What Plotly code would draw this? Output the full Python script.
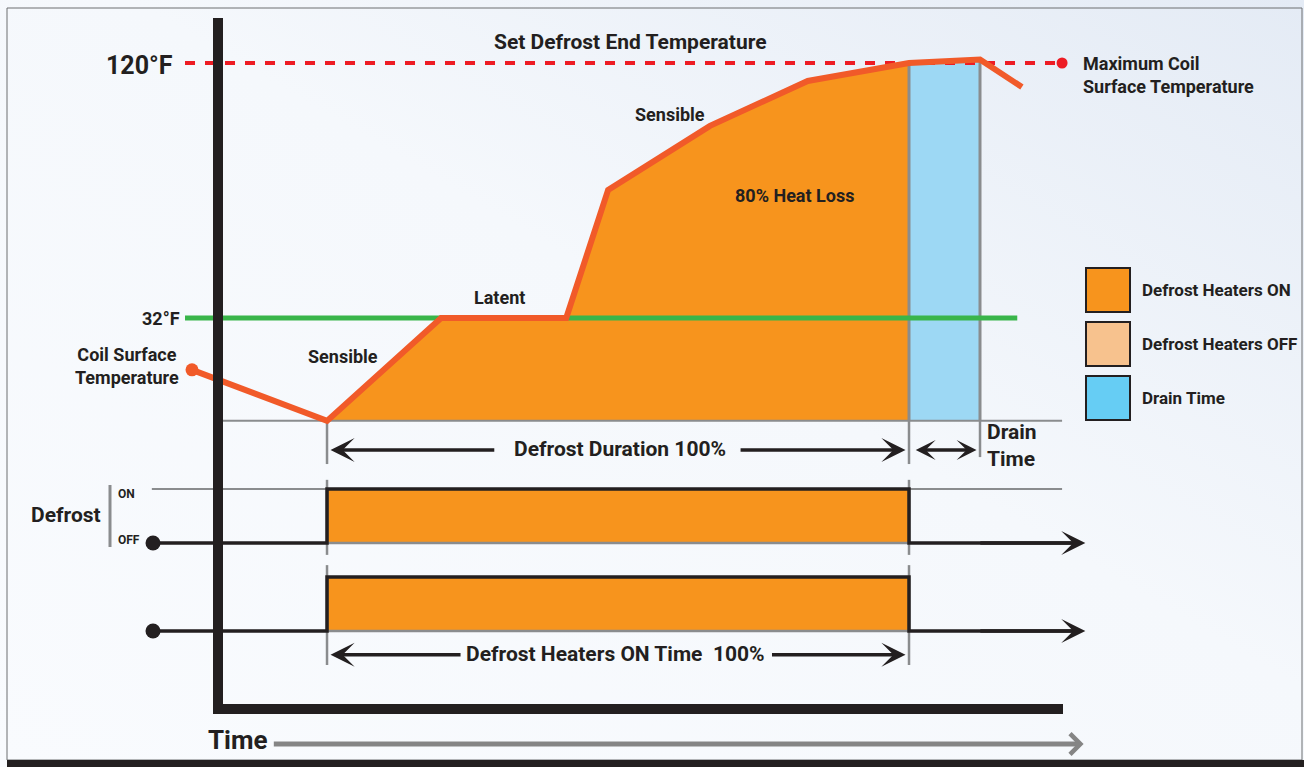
import base64
import plotly.graph_objects as go

# ---------------- data ----------------
# time in % of the defrost duration, temperature in °F
coil_time = [-23.2, 0.0, 19.6, 41.1, 48.3, 65.8, 82.6, 100.0, 112.2, 119.4]
coil_temp = [14.1, -3.5, 32.0, 32.0, 76.2, 98.3, 113.8, 120.0, 121.2, 111.7]
set_end_temp = 120
freezing_temp = 32
floor_temp = -3.5
defrost_start = 0.0
defrost_end = 100.0
drain_end = 112.2

signal_time = [-29.9, 0.0, 0.0, 100.0, 100.0, 128.0]
defrost_state = [0, 0, 1, 1, 0, 0]
heater_state = [0, 0, 1, 1, 0, 0]

legend_labels = ["Defrost Heaters ON", "Defrost Heaters OFF", "Drain Time"]
legend_colors = ["#f7941d", "#f7c28e", "#66cdf4"]

# ---------------- styles ----------------
W, H = 1304, 767
FONT = "Roboto, Liberation Sans, sans-serif"
INK = "#231f20"
GREY = "#8a8c8e"
ORANGE = "#f7941d"
CURVE = "#f15a29"
DRAIN = "#9dd8f4"


def px(v):
    return v / W


def py(v):
    return 1 - v / H


fig = go.Figure()

# heated area under the coil curve (defrost period)
i0 = coil_time.index(defrost_start)
i1 = coil_time.index(defrost_end)
seg_t = coil_time[i0:i1 + 1]
seg_T = coil_temp[i0:i1 + 1]
fig.add_trace(go.Scatter(x=seg_t + [defrost_end, defrost_start],
                         y=seg_T + [floor_temp, floor_temp],
                         fill="toself", fillcolor=ORANGE, mode="none",
                         hoverinfo="skip"))
# drain area
j1 = coil_time.index(drain_end)
fig.add_trace(go.Scatter(x=coil_time[i1:j1 + 1] + [drain_end, defrost_end],
                         y=coil_temp[i1:j1 + 1] + [floor_temp, floor_temp],
                         fill="toself", fillcolor=DRAIN, mode="none",
                         hoverinfo="skip"))

# grey verticals + baseline
for t, top in [(defrost_end, coil_temp[i1]), (drain_end, coil_temp[j1])]:
    fig.add_trace(go.Scatter(x=[t, t], y=[floor_temp, top], mode="lines",
                             line=dict(color=GREY, width=3), hoverinfo="skip"))
fig.add_trace(go.Scatter(x=[-18.0, 126.3], y=[floor_temp, floor_temp], mode="lines",
                         line=dict(color=GREY, width=2), hoverinfo="skip"))
# dimension ticks below baseline
for t, bottom in [(defrost_start, -18.4), (defrost_end, -18.4), (drain_end, -16.0)]:
    fig.add_trace(go.Scatter(x=[t, t], y=[floor_temp, bottom], mode="lines",
                             line=dict(color=GREY, width=2.5), hoverinfo="skip"))

# 32°F line
fig.add_trace(go.Scatter(x=[-24.4, 118.6], y=[freezing_temp, freezing_temp], mode="lines",
                         line=dict(color="#39b54a", width=5), hoverinfo="skip"))
# set defrost end temperature line
fig.add_trace(go.Scatter(x=[-24.4, 126.3], y=[set_end_temp, set_end_temp], mode="lines",
                         line=dict(color="#ed1c24", width=4, dash="10px,10px"),
                         hoverinfo="skip"))
fig.add_trace(go.Scatter(x=[126.3], y=[set_end_temp], mode="markers",
                         marker=dict(color="#ed1c24", size=11), hoverinfo="skip"))

# coil surface temperature curve
fig.add_trace(go.Scatter(x=coil_time, y=coil_temp, mode="lines",
                         line=dict(color=CURVE, width=6), hoverinfo="skip"))
fig.add_trace(go.Scatter(x=coil_time[:1], y=coil_temp[:1], mode="markers",
                         marker=dict(color=CURVE, size=13), hoverinfo="skip"))

# ---------------- signal rows ----------------
for yax, state, ref_line in [("y2", defrost_state, True), ("y3", heater_state, False)]:
    on = max(state)
    off = min(state)
    fig.add_trace(go.Scatter(x=[defrost_start, defrost_end, defrost_end, defrost_start],
                             y=[off, off, on, on], fill="toself", fillcolor=ORANGE,
                             mode="none", yaxis=yax, hoverinfo="skip"))
    fig.add_trace(go.Scatter(x=[defrost_start, defrost_end], y=[off, off], mode="lines",
                             line=dict(color=GREY, width=2.5), yaxis=yax, hoverinfo="skip"))
    if ref_line:
        fig.add_trace(go.Scatter(x=[-30.1, defrost_start, None, defrost_end, 126.3],
                                 y=[on, on, None, on, on], mode="lines",
                                 line=dict(color=GREY, width=2), yaxis=yax,
                                 hoverinfo="skip"))
        ticks = [(defrost_start, 1.17, -0.22), (defrost_end, 1.17, -0.22)]
    else:
        ticks = [(defrost_start, 1.22, -0.63), (defrost_end, 1.22, -0.63)]
    for t, a, b in ticks:
        fig.add_trace(go.Scatter(x=[t, t], y=[a, b], mode="lines",
                                 line=dict(color=GREY, width=2.5), yaxis=yax,
                                 hoverinfo="skip"))
    fig.add_trace(go.Scatter(x=signal_time, y=state, mode="lines",
                             line=dict(color=INK, width=3.5), yaxis=yax,
                             hoverinfo="skip"))
    fig.add_trace(go.Scatter(x=signal_time[:1], y=state[:1], mode="markers",
                             marker=dict(color=INK, size=15), yaxis=yax,
                             hoverinfo="skip"))

annotations = []


def label(text, x, y, size, xanchor="center", xref="x", yref="y", align="center"):
    annotations.append(dict(text=text, x=x, y=y, xref=xref, yref=yref, showarrow=False,
                            xanchor=xanchor, yanchor="middle", align=align,
                            font=dict(family=FONT, size=size, color=INK, weight="bold")))


def arrow(x, y, ax, ay, yref="y", color=INK, width=3.5, head=3, size=1.15, both=False):
    d = dict(x=x, y=y, ax=ax, ay=ay, xref="x", yref=yref, axref="x", ayref=yref,
             showarrow=True, arrowhead=head, arrowsize=size, arrowwidth=width,
             arrowcolor=color, text="")
    if both:
        d.update(arrowside="end+start", startarrowhead=head, startarrowsize=size)
    annotations.append(d)


# labels on the temperature chart
label("Set Defrost End Temperature", 52.2, 127.4, 21)
label("120°F", -26.2, 119.3, 25, xanchor="right")
label("32°F", -24.9, 32.0, 18, xanchor="right")
label("Coil Surface<br>Temperature", -34.4, 15.6, 18, align="center")
label("Sensible", 2.8, 18.6, 18)
label("Latent", 29.7, 39.0, 18)
label("Sensible", 58.9, 102.3, 18)
label("80% Heat Loss", 80.4, 74.2, 18)
label("Maximum Coil<br>Surface Temperature", 129.6, 116.0, 18, xanchor="left", align="left")
label("Defrost Duration 100%", 50.3, -13.2, 21)
label("Drain<br>Time", 113.0, -12.0, 21, xanchor="left", align="left")

arrow(0.6, -13.55, 29.0, -13.55)
arrow(99.4, -13.55, 70.8, -13.55)
arrow(111.6, -13.55, 100.9, -13.55, width=3.5, size=0.95, both=True)

# signal row labels
label("Defrost", px(66), py(515), 21, xref="paper", yref="paper")
label("ON", px(116), py(494), 12, xanchor="left", xref="paper", yref="paper")
label("OFF", px(116), py(540), 12, xanchor="left", xref="paper", yref="paper")
arrow(130.3, 0, 112.0, 0, yref="y2")
arrow(130.3, 0, 112.0, 0, yref="y3")
label("Defrost Heaters ON Time\u00a0\u00a0100%", 49.6, -0.42, 21, yref="y3")
arrow(0.6, -0.44, 23.2, -0.44, yref="y3")
arrow(99.4, -0.44, 76.2, -0.44, yref="y3")

# time axis label and arrow
label("Time", px(238), py(740), 26, xref="paper", yref="paper")
arrow(130.0, -115.0, -9.4, -115.0, color="#858585", width=5, head=4, size=0.8)

# legend
for k, (lab, col) in enumerate(zip(legend_labels, legend_colors)):
    top = 268 + 54 * k
    label(lab, px(1140), py(top + 22), 17, xanchor="left", xref="paper", yref="paper")

shapes = []
for k, col in enumerate(legend_colors):
    top = 268 + 54 * k
    shapes.append(dict(type="rect", xref="paper", yref="paper",
                       x0=px(1086), x1=px(1130), y0=py(top), y1=py(top + 44),
                       fillcolor=col, line=dict(color=INK, width=2)))

# main chart axes (thick black L)
shapes.append(dict(type="line", xref="paper", yref="paper", x0=px(218), x1=px(218),
                   y0=py(18), y1=py(714), line=dict(color=INK, width=10)))
shapes.append(dict(type="line", xref="paper", yref="paper", x0=px(213), x1=px(1063),
                   y0=py(709), y1=py(709), line=dict(color=INK, width=10)))
# defrost ON/OFF bracket
shapes.append(dict(type="line", xref="paper", yref="paper", x0=px(110), x1=px(110),
                   y0=py(485), y1=py(547), line=dict(color=GREY, width=3)))
# frame
shapes.append(dict(type="rect", xref="paper", yref="paper", x0=px(7), x1=px(1302),
                   y0=py(760), y1=py(8), line=dict(color="#6d6e71", width=1)))
shapes.append(dict(type="rect", xref="paper", yref="paper", x0=px(7), x1=1,
                   y0=0, y1=py(760), fillcolor=INK, line=dict(width=0)))

# soft background gradient
svg = ("<svg xmlns='http://www.w3.org/2000/svg' width='1304' height='767'>"
       "<defs><linearGradient id='g' x1='0' y1='1' x2='1' y2='0'>"
       "<stop offset='0' stop-color='#f9fbfe'/><stop offset='0.55' stop-color='#f5f8fc'/>"
       "<stop offset='1' stop-color='#e4ebf5'/></linearGradient></defs>"
       "<rect width='1304' height='767' fill='url(#g)'/></svg>")
bg = "data:image/svg+xml;base64," + base64.b64encode(svg.encode()).decode()

fig.update_layout(
    width=W, height=H, autosize=False,
    margin=dict(l=0, r=0, t=0, b=0, pad=0),
    paper_bgcolor="#f5f8fc", plot_bgcolor="rgba(0,0,0,0)",
    showlegend=False,
    xaxis=dict(range=[-56.19, 167.87], visible=False, fixedrange=True),
    yaxis=dict(range=[-122.95, 141.74], visible=False, fixedrange=True),
    yaxis2=dict(range=[-4.148, 10.056], overlaying="y", visible=False, fixedrange=True),
    yaxis3=dict(range=[-2.5185, 11.685], overlaying="y", visible=False, fixedrange=True),
    annotations=annotations,
    shapes=shapes,
    images=[dict(source=bg, xref="paper", yref="paper", x=0, y=1, sizex=1, sizey=1,
                 sizing="stretch", layer="below", xanchor="left", yanchor="top")],
)

fig.write_html("out.html", config={"displayModeBar": False},
               post_script="document.body.style.margin='0';"
                           "document.body.style.overflow='hidden';")
